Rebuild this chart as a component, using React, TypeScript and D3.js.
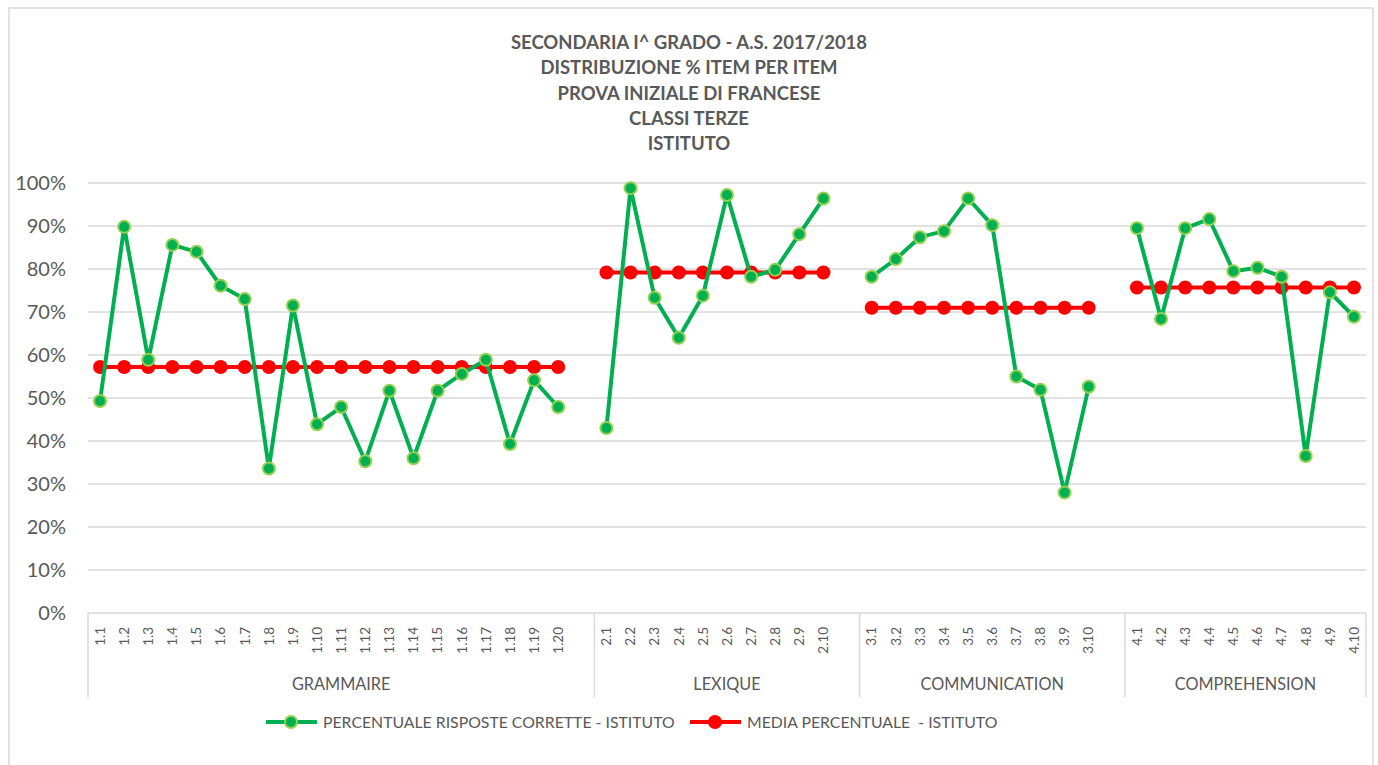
import React from "react";
import * as d3 from "d3";

const titleLines = [
  "SECONDARIA I^ GRADO - A.S. 2017/2018",
  "DISTRIBUZIONE % ITEM PER ITEM",
  "PROVA INIZIALE DI FRANCESE",
  "CLASSI TERZE",
  "ISTITUTO",
];

const groupNames = ["GRAMMAIRE", "LEXIQUE", "COMMUNICATION", "COMPREHENSION"];

const grammaireItems = ["1.1","1.2","1.3","1.4","1.5","1.6","1.7","1.8","1.9","1.10","1.11","1.12","1.13","1.14","1.15","1.16","1.17","1.18","1.19","1.20"];
const lexiqueItems = ["2.1","2.2","2.3","2.4","2.5","2.6","2.7","2.8","2.9","2.10"];
const communicationItems = ["3.1","3.2","3.3","3.4","3.5","3.6","3.7","3.8","3.9","3.10"];
const comprehensionItems = ["4.1","4.2","4.3","4.4","4.5","4.6","4.7","4.8","4.9","4.10"];

const grammaireValues = [49.3, 89.8, 58.9, 85.6, 84.0, 76.1, 73.0, 33.6, 71.5, 43.9, 47.9, 35.3, 51.7, 36.0, 51.7, 55.6, 58.9, 39.3, 54.1, 47.9];
const lexiqueValues = [43.0, 98.8, 73.3, 64.0, 73.8, 97.2, 78.2, 79.8, 88.1, 96.4];
const communicationValues = [78.2, 82.3, 87.4, 88.8, 96.4, 90.2, 55.0, 51.9, 28.0, 52.6];
const comprehensionValues = [89.5, 68.4, 89.5, 91.6, 79.5, 80.3, 78.2, 36.5, 74.6, 68.9];

const groupMeans = [57.2, 79.2, 71.0, 75.7];

const yTicks = [0, 10, 20, 30, 40, 50, 60, 70, 80, 90, 100];

const seriesNames = ["PERCENTUALE RISPOSTE CORRETTE - ISTITUTO", "MEDIA PERCENTUALE  - ISTITUTO"];

const groupItems = [grammaireItems, lexiqueItems, communicationItems, comprehensionItems];
const groupValues = [grammaireValues, lexiqueValues, communicationValues, comprehensionValues];

const FONT = "Lato, 'Open Sans', sans-serif";
const GREY = "#595959";
const GRID = "#D9D9D9";
const GREEN = "#00B050";
const LIGHTGREEN = "#92D050";
const RED = "#FF0000";

export default function App() {
  const left = 88, right = 1366, top = 183, bottom = 613;

  const slots: string[] = [];
  const groupSpans: { start: string; end: string }[] = [];
  groupItems.forEach((items, gi) => {
    const start = items[0];
    items.forEach((it) => slots.push(it));
    let end = items[items.length - 1];
    if (gi < groupItems.length - 1) {
      const gap = "gap" + gi;
      slots.push(gap);
      end = gap;
    }
    groupSpans.push({ start, end });
  });

  const x = d3.scaleBand<string>().domain(slots).range([left, right]).padding(0);
  const y = d3.scaleLinear().domain([0, 100]).range([bottom, top]);
  const cx = (k: string) => (x(k) as number) + x.bandwidth() / 2;

  const line = d3
    .line<[string, number]>()
    .x((d) => cx(d[0]))
    .y((d) => y(d[1]));

  const boundaries: number[] = [left];
  groupSpans.forEach((s) => boundaries.push((x(s.end) as number) + x.bandwidth()));

  return (
    <svg
      width={1378}
      height={765}
      style={{ position: "absolute", left: 0, top: 0, background: "#fff" }}
      fontFamily={FONT}
    >
      <rect x={0} y={0} width={1378} height={765} fill="#fff" />
      <rect x={9} y={8} width={1364} height={780} fill="none" stroke={GRID} strokeWidth={1.5} />

      {titleLines.map((t, i) => (
        <text
          key={i}
          x={689}
          y={49 + i * 25.3}
          textAnchor="middle"
          fontSize={18.5}
          fontWeight="bold"
          fill={GREY}
        >
          {t}
        </text>
      ))}

      {yTicks.map((t) => (
        <g key={t}>
          {t > 0 && (
            <line x1={left} x2={right} y1={y(t)} y2={y(t)} stroke={GRID} strokeWidth={1.5} />
          )}
          <text x={66} y={y(t)} dy="0.35em" textAnchor="end" fontSize={20} fill={GREY}>
            {t + "%"}
          </text>
        </g>
      ))}

      <line x1={left} x2={right} y1={bottom} y2={bottom} stroke={GRID} strokeWidth={1.5} />
      {boundaries.map((b, i) => (
        <line key={i} x1={b} x2={b} y1={bottom} y2={697} stroke={GRID} strokeWidth={1.5} />
      ))}
      {groupItems.flat().map((it) => (
        <text
          key={it}
          transform={`translate(${cx(it) + 4.8},627) rotate(-90)`}
          textAnchor="end"
          fontSize={13.5}
          fill={GREY}
        >
          {it}
        </text>
      ))}
      {groupNames.map((g, i) => {
        const x0 = x(groupItems[i][0]) as number;
        const x1 = boundaries[i + 1];
        return (
          <text key={g} x={(x0 + x1) / 2} y={690} textAnchor="middle" fontSize={16.3} fill={GREY}>
            {g}
          </text>
        );
      })}

      {groupItems.map((items, gi) => {
        const pts: [string, number][] = items.map((it) => [it, groupMeans[gi]]);
        return (
          <g key={"m" + gi}>
            <path d={line(pts) || ""} fill="none" stroke={RED} strokeWidth={4} />
            {pts.map((p) => (
              <circle key={p[0]} cx={cx(p[0])} cy={y(p[1])} r={7} fill={RED} />
            ))}
          </g>
        );
      })}

      {groupItems.map((items, gi) => {
        const pts: [string, number][] = items.map((it, i) => [it, groupValues[gi][i]]);
        return (
          <g key={"p" + gi}>
            <path d={line(pts) || ""} fill="none" stroke={GREEN} strokeWidth={4} strokeLinejoin="round" />
            {pts.map((p) => (
              <circle key={p[0]} cx={cx(p[0])} cy={y(p[1])} r={6} fill={GREEN} stroke={LIGHTGREEN} strokeWidth={2} />
            ))}
          </g>
        );
      })}

      <g>
        <line x1={266} x2={317} y1={722} y2={722} stroke={GREEN} strokeWidth={4} />
        <circle cx={291} cy={722} r={6} fill={GREEN} stroke={LIGHTGREEN} strokeWidth={2} />
        <text x={323} y={722} dy="0.35em" fontSize={15.8} fill={GREY}>
          {seriesNames[0]}
        </text>
        <line x1={690} x2={741} y1={722} y2={722} stroke={RED} strokeWidth={4} />
        <circle cx={715} cy={722} r={7} fill={RED} />
        <text x={747} y={722} dy="0.35em" fontSize={15.8} fill={GREY} style={{ whiteSpace: "pre" }}>
          {seriesNames[1]}
        </text>
      </g>
    </svg>
  );
}
